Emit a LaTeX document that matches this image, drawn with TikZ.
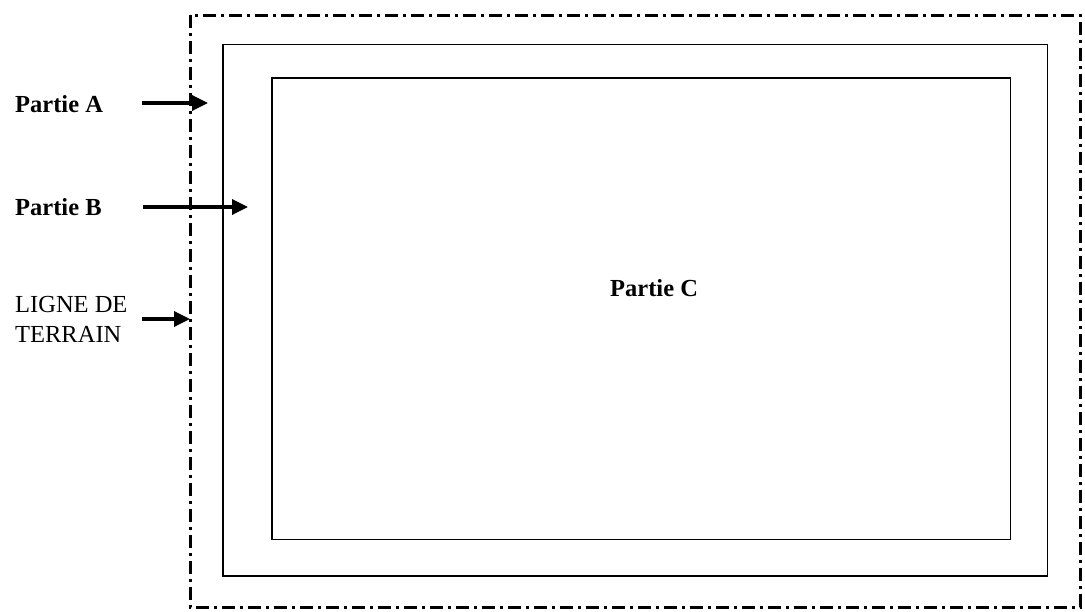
\documentclass[tikz,border=0pt]{standalone}
\usepackage{fontspec}
\setmainfont{Liberation Serif}
\usepackage{tikz}
\usetikzlibrary{
  arrows.meta,
  positioning
}
\tikzset{
  limite/.style={draw,line width=1.8pt},
  terrainline/.style={draw,line width=3pt,dash pattern=on 13pt off 5pt on 3pt off 5pt},
  etiquette/.style={anchor=west,inner sep=0pt,align=left,font=\fontsize{24.5}{30}\selectfont},
  fleche/.style={-{Triangle[length=16pt,width=15pt]},line width=3.4pt},
}

\begin{document}
\begin{tikzpicture}[x=1pt,y=-1pt]
  \useasboundingbox (0,0) rectangle (1085,611);

  % Zones
  \draw[terrainline] (190,15) rectangle (1080,607);
  \coordinate (ligne) at (190,319);
  \draw[limite] (223,44.5) rectangle (1047.5,576);
  \draw[limite] (272,78) rectangle (1010.5,539.5);

  % Labels
  \node[etiquette,font=\fontsize{24.5}{30}\selectfont\bfseries] (partieA) at (15,104) {Partie A};
  \node[etiquette,font=\fontsize{24.5}{30}\selectfont\bfseries] (partieB) at (15,207) {Partie B};
  \node[etiquette] (terrain) at (15,319.5) {LIGNE DE\\TERRAIN};
  \node[etiquette,font=\fontsize{24.5}{30}\selectfont\bfseries] (partieC) at (610,288) {Partie C};

  % Arrows
  \coordinate (queueA) at (142,103);
  \coordinate (pointeA) at (208,103);
  \coordinate (queueB) at (143,207);
  \coordinate (pointeB) at (248,207);
  \coordinate (queueT) at (142,319);
  \draw[fleche] (queueA) -- (pointeA);
  \draw[fleche] (queueB) -- (pointeB);
  \draw[fleche] (queueT) -- (ligne);
\end{tikzpicture}
\end{document}
